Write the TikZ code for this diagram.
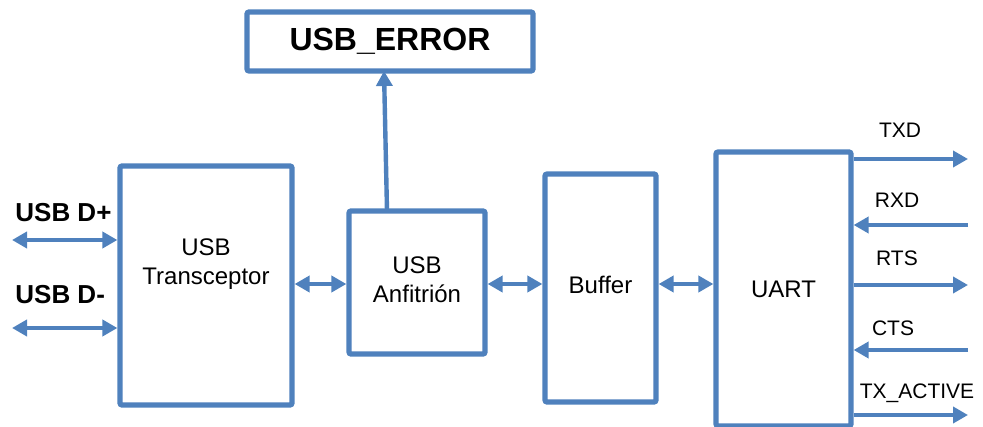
\documentclass[tikz,border=0pt]{standalone}
\usepackage{fontspec}
\setmainfont{Liberation Sans}
\usetikzlibrary{arrows.meta}
\definecolor{linkblue}{HTML}{4F81BD}
\begin{document}
\begin{tikzpicture}[x=0.5pt,y=-0.5pt,
  blk/.style={draw=linkblue,line width=2.6pt,rounded corners=1pt,fill=white,inner sep=0pt},
  lbl/.style={font=\fontsize{12}{14.5}\selectfont,align=center,inner sep=0pt},
  sig/.style={font=\fontsize{10.5}{12}\selectfont,inner sep=0pt},
  pin/.style={font=\bfseries\fontsize{13}{15}\selectfont,inner sep=0pt,anchor=west},
  link/.style={draw=linkblue,line width=2.2pt},
  tip/.style={-{Triangle[length=7.5pt,width=8pt]}},
  dtip/.style={{Triangle[length=7.5pt,width=8pt]}-{Triangle[length=7.5pt,width=8pt]}}]
\useasboundingbox (0,0) rectangle (983,427);

% blocks
\node[blk,minimum width=143pt,minimum height=29.5pt,font=\bfseries\fontsize{16}{18}\selectfont] (err) at (390,41.5) {USB\_ERROR};
\node[blk,minimum width=86pt,minimum height=119.5pt] (tr) at (206,285.5) {};
\node[lbl] (trtext) at (206,264.5) {USB\\Transceptor};
\node[blk,minimum width=68pt,minimum height=71.5pt] (anf) at (417,282.5) {};
\node[lbl] (anftext) at (417,280) {USB\\Anfitrión};
\node[blk,minimum width=55.5pt,minimum height=114pt] (buf) at (600.5,288) {};
\node[lbl] (buftext) at (600.5,285) {Buffer};
\node[blk,minimum width=67.5pt,minimum height=137pt,lbl] (uart) at (783.5,289) {UART};

% USB data lines
\node[pin] (dplbl) at (15,213) {USB D+};
\node[pin] (dmlbl) at (15,295) {USB D-};
\coordinate (dp) at (12,240);
\coordinate (dm) at (12,328);
\draw[link,dtip] (dp) -- (dp -| tr.west);
\draw[link,dtip] (dm) -- (dm -| tr.west);

% internal buses
\coordinate (bus) at (0,284);
\draw[link,dtip] (bus -| tr.east) -- (bus -| anf.west);
\draw[link,dtip] (bus -| anf.east) -- (bus -| buf.west);
\draw[link,dtip] (bus -| buf.east) -- (bus -| uart.west);

% error flag
\coordinate (efoot) at (387,211);
\coordinate (ehead) at (384,71);
\draw[link,tip] (efoot) -- (ehead);

% serial port signals
\coordinate (txd) at (968,159);
\coordinate (rxd) at (968,225);
\coordinate (rts) at (968,285);
\coordinate (cts) at (968,350);
\coordinate (txa) at (968,415);
\draw[link,tip] (txd -| uart.east) -- (txd);
\draw[link,tip] (rxd) -- (rxd -| uart.east);
\draw[link,tip] (rts -| uart.east) -- (rts);
\draw[link,tip] (cts) -- (cts -| uart.east);
\draw[link,tip] (txa -| uart.east) -- (txa);
\node[sig] (txdlbl) at (900,130) {TXD};
\node[sig] (rxdlbl) at (897,200) {RXD};
\node[sig] (rtslbl) at (897,258) {RTS};
\node[sig] (ctslbl) at (893,328) {CTS};
\node[sig] (txalbl) at (917,393) {TX\_ACTIVE};
\end{tikzpicture}
\end{document}
